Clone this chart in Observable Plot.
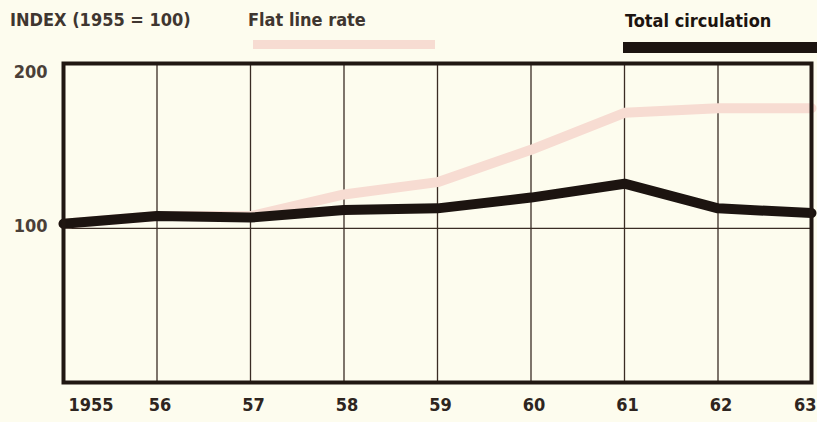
<!DOCTYPE html>
<html><head><meta charset="utf-8">
<script src="https://cdn.jsdelivr.net/npm/d3@7"></script>
<script src="https://cdn.jsdelivr.net/npm/@observablehq/plot@0.6"></script>
<style>
html,body{margin:0;padding:0;background:#fdfcee;}
body{width:817px;height:422px;overflow:hidden;font-family:"DejaVu Sans Condensed","DejaVu Sans",sans-serif;font-stretch:condensed;}
#head{position:relative;height:56px;}
.lab{position:absolute;font-weight:bold;font-size:18px;line-height:1;white-space:nowrap;font-stretch:condensed;}
.sw{position:absolute;}
#chart svg{display:block;}
#chart svg text{font-stretch:condensed;}
</style></head><body>
<div id="head"></div>
<div id="chart"></div>
<script>
const years = [1955, 1956, 1957, 1958, 1959, 1960, 1961, 1962, 1963];
const yearLabels = ["1955", "56", "57", "58", "59", "60", "61", "62", "63"];
const totalCirculation = [103, 108, 107, 112, 113, 120, 129, 113, 110];
const flatLineRate = [103, 108, 108, 122, 130, 151, 175, 178, 178];
const yTicks = [100, 200];
const axisTitle = "INDEX (1955 = 100)";
const seriesNames = ["Flat line rate", "Total circulation"];
const seriesColors = ["#f7dcd2", "#1c1410"];

const FONT = '"DejaVu Sans Condensed","DejaVu Sans",sans-serif';

// header / legend
const head = document.getElementById("head");
function addLabel(text, left, top, color) {
  const d = document.createElement("div");
  d.className = "lab";
  d.textContent = text;
  d.style.left = left + "px"; d.style.top = top + "px"; d.style.color = color;
  head.appendChild(d);
}
function addSwatch(left, top, w, h, color) {
  const d = document.createElement("div");
  d.className = "sw";
  Object.assign(d.style, {left: left + "px", top: top + "px", width: w + "px", height: h + "px", background: color});
  head.appendChild(d);
}
addLabel(axisTitle, 10, 11, "#3f3630");
addLabel(seriesNames[0], 248, 11, "#3f3630");
addSwatch(253, 40, 182, 9, seriesColors[0]);
addLabel(seriesNames[1], 625, 12, "#1c1410");
addSwatch(623, 42, 194, 11, seriesColors[1]);

const rows = years.map((year, i) => ({year, label: yearLabels[i], total: totalCirculation[i], flat: flatLineRate[i]}));
const n = rows.length;

const chart = Plot.plot({
  width: 817, height: 366,
  marginTop: 7, marginBottom: 40, marginLeft: 63, marginRight: 6,
  style: {background: "transparent", fontFamily: FONT, fontSize: "18px", fontWeight: "bold", color: "#3f3630", overflow: "visible"},
  x: {domain: [1955, 1963], axis: null},
  y: {domain: [0, 207], axis: null},
  marks: [
    Plot.ruleX(years, {stroke: "#3a2c24", strokeWidth: 1.3}),
    Plot.ruleY([100], {stroke: "#3a2c24", strokeWidth: 1.3}),
    Plot.line(rows, {x: "year", y: "flat", stroke: seriesColors[0], strokeWidth: 10, strokeLinejoin: "round"}),
    Plot.line(rows, {x: "year", y: "total", stroke: seriesColors[1], strokeWidth: 10, strokeLinejoin: "round"}),
    Plot.frame({stroke: "#201712", strokeWidth: 4}),
    Plot.text(yTicks, {x: 1955, y: d => d, text: d => String(d), textAnchor: "end", dx: -16, dy: -2, fill: "#4a3f38", fontSize: 18, fontWeight: "bold"}),
    Plot.text(rows.slice(0, 1), {x: "year", text: "label", frameAnchor: "bottom", lineAnchor: "top", textAnchor: "start", dx: 5, dy: 16, fill: "#2e2520", fontSize: 18, fontWeight: "bold"}),
    Plot.text(rows.slice(1, n - 1), {x: "year", text: "label", frameAnchor: "bottom", lineAnchor: "top", textAnchor: "middle", dx: 3, dy: 16, fill: "#2e2520", fontSize: 18, fontWeight: "bold"}),
    Plot.text(rows.slice(n - 1), {x: "year", text: "label", frameAnchor: "bottom", lineAnchor: "top", textAnchor: "end", dx: 5, dy: 16, fill: "#2e2520", fontSize: 18, fontWeight: "bold"})
  ]
});
document.getElementById("chart").appendChild(chart);
</script>
</body></html>
